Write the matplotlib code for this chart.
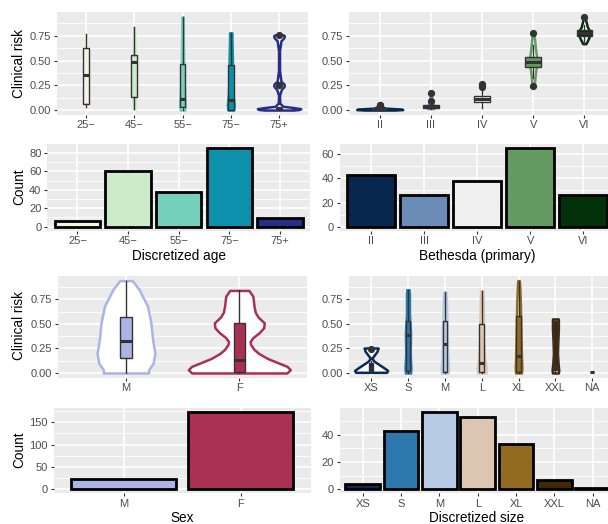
import numpy as np
import matplotlib.pyplot as plt

plt.rcParams['font.family'] = ['Liberation Sans', 'DejaVu Sans']

W, H = 608, 524

# ---- discretized age ----
age_groups = ['25−', '45−', '55−', '75−', '75+']
age_counts = [6, 60, 38, 85, 9]
age_colors = ['#f6f3e3', '#ccebc9', '#77d0be', '#0c90ab', '#272e86']
age_lo = [0.03, 0.01, 0.0, 0.0, 0.005]
age_q1 = [0.06, 0.135, 0.035, 0.005, 0.01]
age_med = [0.35, 0.49, 0.115, 0.10, 0.02]
age_q3 = [0.63, 0.56, 0.46, 0.45, 0.025]
age_hi = [0.77, 0.835, 0.94, 0.78, 0.03]
age_out = [[], [], [], [], [0.25, 0.755]]
age_vy = [[0.03, 0.2, 0.4, 0.6, 0.77],
          [0.01, 0.1, 0.3, 0.5, 0.7, 0.835],
          [0.0, 0.05, 0.15, 0.3, 0.5, 0.7, 0.94],
          [0.0, 0.05, 0.15, 0.3, 0.5, 0.7, 0.78],
          [0.0, 0.006, 0.014, 0.025, 0.038, 0.07, 0.15, 0.21, 0.235, 0.25, 0.265, 0.29,
           0.4, 0.6, 0.7, 0.73, 0.75, 0.76]]
age_vw = [[0.008, 0.01, 0.01, 0.01, 0.006],
          [0.015, 0.025, 0.02, 0.025, 0.012, 0.008],
          [0.05, 0.06, 0.045, 0.03, 0.025, 0.018, 0.015],
          [0.06, 0.07, 0.05, 0.035, 0.035, 0.025, 0.025],
          [0.3, 0.42, 0.45, 0.3, 0.08, 0.015, 0.01, 0.05, 0.1, 0.11, 0.1, 0.04,
           0.01, 0.01, 0.04, 0.1, 0.11, 0.08]]

# ---- Bethesda ----
beth_groups = ['II', 'III', 'IV', 'V', 'VI']
beth_counts = [43, 26, 38, 65, 26]
beth_colors = ['#06284e', '#6a8cb7', '#f0f0f0', '#659a62', '#02310a']
beth_lo = [0.0, 0.015, 0.02, 0.32, 0.67]
beth_q1 = [0.005, 0.025, 0.085, 0.43, 0.745]
beth_med = [0.01, 0.035, 0.11, 0.49, 0.78]
beth_q3 = [0.015, 0.05, 0.14, 0.54, 0.81]
beth_hi = [0.03, 0.08, 0.2, 0.66, 0.86]
beth_out = [[0.05, 0.055], [0.09, 0.175], [0.23, 0.25, 0.26], [0.245, 0.775], [0.94]]
beth_vy = [[0.0, 0.005, 0.01, 0.02, 0.04, 0.055],
           [0.015, 0.03, 0.06, 0.1, 0.14, 0.18],
           [0.02, 0.08, 0.11, 0.15, 0.2, 0.26],
           [0.245, 0.3, 0.4, 0.49, 0.6, 0.7, 0.775],
           [0.67, 0.72, 0.78, 0.84, 0.9, 0.94]]
beth_vw = [[0.3, 0.45, 0.42, 0.1, 0.03, 0.015],
           [0.06, 0.09, 0.04, 0.02, 0.015, 0.012],
           [0.02, 0.1, 0.12, 0.06, 0.02, 0.015],
           [0.02, 0.03, 0.05, 0.08, 0.05, 0.03, 0.015],
           [0.03, 0.08, 0.12, 0.06, 0.03, 0.015]]

# ---- sex ----
sex_groups = ['M', 'F']
sex_counts = [24, 174]
sex_colors = ['#aab4e5', '#a93153']
sex_lo = [0.0, 0.0]
sex_q1 = [0.149, 0.014]
sex_med = [0.325, 0.13]
sex_q3 = [0.573, 0.505]
sex_hi = [0.94, 0.84]
sex_out = [[], []]
sex_vy = [[0.0, 0.034, 0.1, 0.2, 0.34, 0.51, 0.68, 0.85, 0.94],
          [0.0, 0.034, 0.068, 0.1, 0.15, 0.2, 0.24, 0.29, 0.32, 0.36, 0.41, 0.46,
           0.51, 0.57, 0.62, 0.68, 0.78, 0.84]]
sex_vw = [[0.2, 0.2, 0.24, 0.255, 0.235, 0.22, 0.19, 0.115, 0.055],
          [0.42, 0.45, 0.42, 0.35, 0.245, 0.17, 0.13, 0.1, 0.095, 0.12, 0.175, 0.215,
           0.22, 0.165, 0.14, 0.13, 0.12, 0.085]]

# ---- discretized size ----
size_groups = ['XS', 'S', 'M', 'L', 'XL', 'XXL', 'NA']
size_counts = [4, 43, 57, 53, 33, 7, 1]
size_colors = ['#0a2a55', '#2d79ad', '#b7cce4', '#dcc5b1', '#936b20', '#432709', '#111111']
size_lo = [0.015, 0.0, 0.0, 0.0, 0.0, 0.0, 0.007]
size_q1 = [0.025, 0.017, 0.01, 0.01, 0.01, 0.027, 0.007]
size_med = [0.05, 0.383, 0.298, 0.10, 0.17, 0.06, 0.007]
size_q3 = [0.10, 0.525, 0.525, 0.498, 0.576, 0.525, 0.007]
size_hi = [0.12, 0.84, 0.82, 0.835, 0.94, 0.55, 0.007]
size_out = [[0.245], [], [], [], [], [], []]
size_vy = [[0.007, 0.025, 0.05, 0.085, 0.12, 0.15, 0.18, 0.22, 0.254],
           [0.0, 0.05, 0.2, 0.4, 0.6, 0.8, 0.848],
           [0.0, 0.05, 0.2, 0.4, 0.6, 0.78, 0.824],
           [0.0, 0.05, 0.15, 0.3, 0.5, 0.7, 0.837],
           [0.0, 0.05, 0.15, 0.3, 0.5, 0.7, 0.9, 0.94],
           [0.0, 0.03, 0.1, 0.2, 0.3, 0.45, 0.55],
           []]
size_vw = [[0.42, 0.45, 0.36, 0.22, 0.08, 0.02, 0.08, 0.16, 0.19],
           [0.07, 0.08, 0.06, 0.07, 0.04, 0.04, 0.03],
           [0.09, 0.1, 0.07, 0.07, 0.05, 0.04, 0.03],
           [0.11, 0.12, 0.08, 0.05, 0.05, 0.04, 0.03],
           [0.08, 0.09, 0.08, 0.07, 0.06, 0.05, 0.03, 0.02],
           [0.08, 0.09, 0.07, 0.05, 0.06, 0.08, 0.08],
           []]

risk_ticks = [0.0, 0.25, 0.5, 0.75]
risk_labels = ['0.00', '0.25', '0.50', '0.75']

fig = plt.figure(figsize=(W / 100, H / 100), dpi=100)


def panel(left, top, right, bottom):
    ax = fig.add_axes([left / W, 1 - bottom / H, (right - left) / W, (bottom - top) / H])
    ax.set_facecolor('#EBEBEB')
    for s in ax.spines.values():
        s.set_visible(False)
    ax.set_axisbelow(True)
    ax.grid(which='major', color='white', lw=1.2)
    ax.grid(which='minor', axis='y', color='white', lw=0.6)
    ax.tick_params(which='major', length=2.5, width=0.8, color='#333333',
                   labelcolor='#4D4D4D', labelsize=8, pad=1.5)
    ax.tick_params(which='minor', length=0)
    return ax


def x_categories(ax, groups):
    n = len(groups)
    ax.set_xlim(0.4, n + 0.6)
    ax.set_xticks(range(1, n + 1), groups)


def risk_axis(ax):
    ax.set_ylim(-0.047, 0.987)
    ax.set_yticks(risk_ticks, risk_labels)
    ax.set_yticks([0.125, 0.375, 0.625, 0.875], minor=True)


def count_axis(ax, top, step):
    ax.set_ylim(-0.05 * top, 1.05 * top)
    ax.set_yticks(np.arange(0, top + 1, step))
    ax.set_yticks(np.arange(step / 2, 1.05 * top, step), minor=True)


def violins(ax, ys, ws, colors, lw=1.8):
    for i, (y, w, c) in enumerate(zip(ys, ws, colors)):
        if not y:
            continue
        y = np.asarray(y)
        w = np.asarray(w)
        ax.fill_betweenx(y, i + 1 - w, i + 1 + w, facecolor='white',
                         edgecolor=c, linewidth=lw, zorder=2)


def boxes(ax, lo, q1, med, q3, hi, out, colors, width):
    stats = [dict(whislo=a, q1=b, med=c, q3=d, whishi=e, fliers=f)
             for a, b, c, d, e, f in zip(lo, q1, med, q3, hi, out)]
    bp = ax.bxp(stats, positions=range(1, len(stats) + 1), widths=width,
                patch_artist=True, showcaps=False, manage_ticks=False, zorder=3,
                boxprops=dict(edgecolor='#333333', linewidth=1.0),
                whiskerprops=dict(color='#333333', linewidth=1.0),
                medianprops=dict(color='#333333', linewidth=2.2),
                flierprops=dict(marker='o', markerfacecolor='#333333',
                                markeredgecolor='#333333', markersize=4.2))
    for patch, c in zip(bp['boxes'], colors):
        patch.set_facecolor(c)


def bars(ax, counts, colors):
    ax.bar(range(1, len(counts) + 1), counts, width=0.9, color=colors,
           edgecolor='black', linewidth=2.0, zorder=2)


label_kw = dict(fontsize=9.8, color='black')

# row 1: clinical risk by age / Bethesda
ax = panel(57, 12.3, 308, 114.7)
violins(ax, age_vy, age_vw, age_colors)
boxes(ax, age_lo, age_q1, age_med, age_q3, age_hi, age_out, age_colors, 0.12)
x_categories(ax, age_groups)
risk_axis(ax)

ax = panel(349, 12.3, 615, 114.7)
violins(ax, beth_vy, beth_vw, beth_colors)
boxes(ax, beth_lo, beth_q1, beth_med, beth_q3, beth_hi, beth_out, beth_colors, 0.3)
x_categories(ax, beth_groups)
risk_axis(ax)

# row 2: counts by age / Bethesda
ax = panel(47, 144.3, 310.4, 230.6)
bars(ax, age_counts, age_colors)
x_categories(ax, age_groups)
count_axis(ax, 85, 20)
ax.set_yticks(np.arange(10, 90, 20), minor=True)

ax = panel(339.5, 144.3, 615, 230.6)
bars(ax, beth_counts, beth_colors)
x_categories(ax, beth_groups)
count_axis(ax, 65, 20)

# row 3: clinical risk by sex / size
ax = panel(58, 276, 307.3, 377.6)
violins(ax, sex_vy, sex_vw, sex_colors)
boxes(ax, sex_lo, sex_q1, sex_med, sex_q3, sex_hi, sex_out, sex_colors, 0.1)
x_categories(ax, sex_groups)
risk_axis(ax)

ax = panel(349, 276, 614.4, 377.6)
violins(ax, size_vy, size_vw, size_colors)
boxes(ax, size_lo, size_q1, size_med, size_q3, size_hi, size_out, size_colors, 0.12)
x_categories(ax, size_groups)
risk_axis(ax)

# row 4: counts by sex / size
ax = panel(53.5, 407.7, 311, 493.2)
bars(ax, sex_counts, sex_colors)
x_categories(ax, sex_groups)
count_axis(ax, 174, 50)

ax = panel(339.7, 407.7, 615.7, 493.2)
bars(ax, size_counts, size_colors)
x_categories(ax, size_groups)
count_axis(ax, 57, 20)

# axis titles
fig.text(19 / W, 1 - 63.5 / H, 'Clinical risk', rotation=90, ha='center', va='center', **label_kw)
fig.text(19 / W, 1 - 187 / H, 'Count', rotation=90, ha='center', va='center', **label_kw)
fig.text(19 / W, 1 - 326 / H, 'Clinical risk', rotation=90, ha='center', va='center', **label_kw)
fig.text(19 / W, 1 - 450 / H, 'Count', rotation=90, ha='center', va='center', **label_kw)
fig.text(178.5 / W, 1 - 256 / H, 'Discretized age', ha='center', va='center', **label_kw)
fig.text(477 / W, 1 - 256 / H, 'Bethesda (primary)', ha='center', va='center', **label_kw)
fig.text(182 / W, 1 - 518 / H, 'Sex', ha='center', va='center', **label_kw)
fig.text(477 / W, 1 - 518 / H, 'Discretized size', ha='center', va='center', **label_kw)

fig.savefig('out.png', dpi=100)
